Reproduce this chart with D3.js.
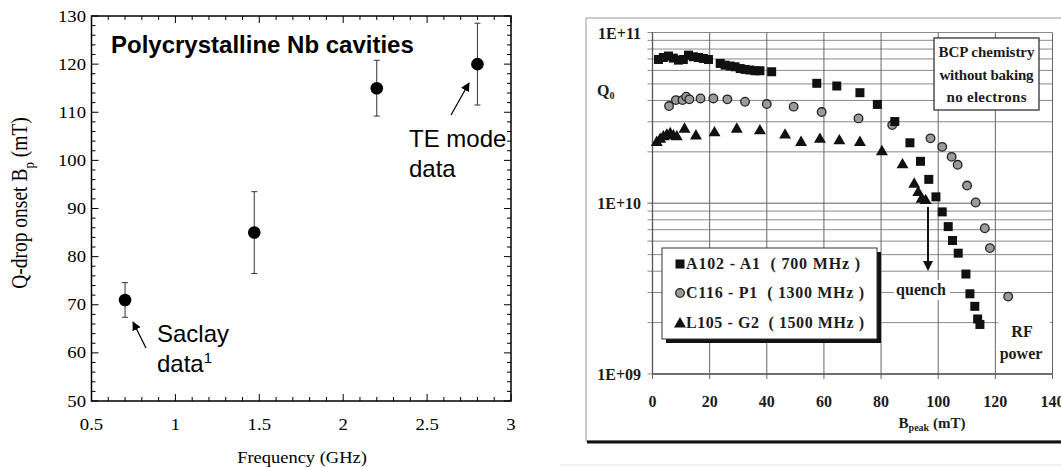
<!DOCTYPE html>
<html>
<head>
<meta charset="utf-8">
<script src="https://cdn.jsdelivr.net/npm/d3@7"></script>
<style>
  body { margin: 0; background: #fff; }
  svg { display: block; }
  .serif { font-family: "Liberation Serif", "Times New Roman", serif; }
  .sans { font-family: "Liberation Sans", Arial, sans-serif; }
</style>
</head>
<body>
<div id="chart"></div>
<script>
const width = 1061;
const height = 467;

// left panel: Q-drop onset vs frequency
const freqs = [0.7, 1.47, 2.2, 2.8];
const onset = [71, 85, 115, 120];
const onsetErr = [3.6, 8.5, 5.8, 8.5];
const xTicksL = [0.5, 1, 1.5, 2, 2.5, 3];
const yTicksL = [50, 60, 70, 80, 90, 100, 110, 120, 130];

// right panel: Q0 vs Bpeak
const aB = [2.1, 3.8, 5.6, 7.3, 9.1, 10.8, 12.6, 14.3, 16.1, 17.8, 19.6, 23.7, 25.4, 27.2, 28.9, 30.7, 32.4, 34.1, 35.9, 37.6, 41.7, 57.5, 64.5, 72.6, 78.7, 84.8, 90.1, 93.8, 96.7, 99.2, 101.4, 103.5, 105.0, 107.0, 109.7, 111.1, 112.8, 113.8, 114.6];
const aQ = [6.95e10, 7.14e10, 7.28e10, 7.08e10, 6.89e10, 6.95e10, 7.37e10, 7.21e10, 7.14e10, 7.05e10, 6.95e10, 6.59e10, 6.44e10, 6.36e10, 6.30e10, 6.15e10, 6.08e10, 6.03e10, 5.97e10, 5.97e10, 5.89e10, 5.04e10, 4.86e10, 4.44e10, 3.79e10, 3.01e10, 2.26e10, 1.76e10, 1.38e10, 1.09e10, 8.9e9, 7.3e9, 6.05e9, 5.1e9, 3.85e9, 2.95e9, 2.49e9, 2.1e9, 1.95e9];
const cB = [5.8, 8.2, 10.5, 11.8, 12.9, 16.8, 21.3, 26.2, 32.4, 40.0, 49.4, 59.2, 72.1, 83.9, 97.3, 101.4, 104.7, 106.8, 110.1, 113.1, 116.3, 118.1, 124.5];
const cQ = [3.71e10, 4.02e10, 4.02e10, 4.21e10, 4.06e10, 4.11e10, 4.11e10, 4.06e10, 3.93e10, 3.81e10, 3.68e10, 3.42e10, 3.14e10, 2.87e10, 2.40e10, 2.14e10, 1.87e10, 1.68e10, 1.27e10, 1.01e10, 7.14e9, 5.46e9, 2.84e9];
const lB = [1.5, 2.7, 3.8, 5.0, 6.2, 7.3, 8.5, 11.2, 15.2, 21.7, 29.5, 37.6, 46.4, 52.0, 58.6, 65.4, 72.6, 80.3, 87.5, 91.6, 93.0, 94.2, 95.6];
const lQ = [2.30e10, 2.40e10, 2.48e10, 2.54e10, 2.59e10, 2.51e10, 2.48e10, 2.75e10, 2.51e10, 2.62e10, 2.75e10, 2.69e10, 2.54e10, 2.30e10, 2.40e10, 2.35e10, 2.30e10, 2.03e10, 1.70e10, 1.31e10, 1.17e10, 1.07e10, 1.05e10];
const xTicksR = [0, 20, 40, 60, 80, 100, 120, 140];
const yTicksR = [1e9, 1e10, 1e11];
const yLabelsR = ['1E+09', '1E+10', '1E+11'];
const legendLabels = ['A102 - A1  ( 700 MHz )', 'C116 - P1  ( 1300 MHz )', 'L105 - G2  ( 1500 MHz )'];
const noteLines = ['BCP chemistry', 'without baking', 'no electrons'];

const svg = d3.select('#chart').append('svg')
  .attr('width', width)
  .attr('height', height);

//---------------- left panel ----------------
const xL = d3.scaleLinear().domain([0.5, 3]).range([91.5, 511]);
const yL = d3.scaleLinear().domain([50, 130]).range([401, 16]);
const left = svg.append('g');
const stretch = 1.17; // the scanned plot is a bit wider than tall

// minor + major ticks, inward on all four sides
const xMinor = d3.range(0.5, 3.001, 0.1);
const yMinor = d3.range(50, 130.001, 2);
xMinor.forEach(v => {
  const major = Math.abs(v * 2 - Math.round(v * 2)) < 1e-6;
  const len = major ? 7 : 4;
  left.append('line').attr('x1', xL(v)).attr('x2', xL(v)).attr('y1', 401).attr('y2', 401 - len).attr('stroke', '#000');
  left.append('line').attr('x1', xL(v)).attr('x2', xL(v)).attr('y1', 16).attr('y2', 16 + len).attr('stroke', '#000');
});
yMinor.forEach(v => {
  const major = v % 10 === 0;
  const len = major ? 7 : 4;
  left.append('line').attr('x1', 91.5).attr('x2', 91.5 + len).attr('y1', yL(v)).attr('y2', yL(v)).attr('stroke', '#000');
  left.append('line').attr('x1', 511).attr('x2', 511 - len).attr('y1', yL(v)).attr('y2', yL(v)).attr('stroke', '#000');
});
left.append('rect')
  .attr('x', 91.5).attr('y', 16)
  .attr('width', 511 - 91.5).attr('height', 401 - 16)
  .attr('fill', 'none').attr('stroke', '#000').attr('stroke-width', 1.5);

left.selectAll('.xtl').data(xTicksL).enter().append('text')
  .attr('class', 'serif')
  .attr('transform', d => 'translate(' + xL(d) + ',430) scale(' + stretch + ',1)')
  .attr('text-anchor', 'middle')
  .attr('font-size', 16)
  .text(d => d);
left.selectAll('.ytl').data(yTicksL).enter().append('text')
  .attr('class', 'serif')
  .attr('transform', d => 'translate(86,' + (yL(d) + 5.5) + ') scale(' + stretch + ',1)')
  .attr('text-anchor', 'end')
  .attr('font-size', 16)
  .text(d => d);

left.append('text')
  .attr('class', 'serif')
  .attr('transform', 'translate(302,463) scale(1.12,1)')
  .attr('text-anchor', 'middle')
  .attr('font-size', 16.5)
  .text('Frequency (GHz)');

const yLab = left.append('text')
  .attr('class', 'serif')
  .attr('transform', 'translate(27,203) scale(' + stretch + ',1) rotate(-90)')
  .attr('text-anchor', 'middle')
  .attr('font-size', 19.5);
yLab.append('tspan').text('Q-drop onset B');
yLab.append('tspan').attr('dy', 6).attr('font-size', 13).text('p');
yLab.append('tspan').attr('dy', -6).text(' (mT)');

// error bars
const pts = freqs.map((f, i) => ({f: f, v: onset[i], e: onsetErr[i]}));
const eb = left.selectAll('.eb').data(pts).enter().append('g');
eb.append('line')
  .attr('x1', d => xL(d.f)).attr('x2', d => xL(d.f))
  .attr('y1', d => yL(d.v + d.e)).attr('y2', d => yL(d.v - d.e))
  .attr('stroke', '#333');
eb.append('line')
  .attr('x1', d => xL(d.f) - 3).attr('x2', d => xL(d.f) + 3)
  .attr('y1', d => yL(d.v + d.e)).attr('y2', d => yL(d.v + d.e))
  .attr('stroke', '#333');
eb.append('line')
  .attr('x1', d => xL(d.f) - 3).attr('x2', d => xL(d.f) + 3)
  .attr('y1', d => yL(d.v - d.e)).attr('y2', d => yL(d.v - d.e))
  .attr('stroke', '#333');
eb.append('circle')
  .attr('cx', d => xL(d.f)).attr('cy', d => yL(d.v))
  .attr('r', 6.3).attr('fill', '#000');

left.append('text')
  .attr('class', 'sans')
  .attr('x', 111).attr('y', 53)
  .attr('font-size', 24).attr('font-weight', 'bold')
  .text('Polycrystalline Nb cavities');

const annoSize = 24;
left.append('text').attr('class', 'sans').attr('x', 409).attr('y', 147).attr('font-size', annoSize).text('TE mode');
left.append('text').attr('class', 'sans').attr('x', 409).attr('y', 177).attr('font-size', annoSize).text('data');
left.append('text').attr('class', 'sans').attr('x', 157).attr('y', 342).attr('font-size', annoSize).text('Saclay');
const sd = left.append('text').attr('class', 'sans').attr('x', 157).attr('y', 372).attr('font-size', annoSize);
sd.append('tspan').text('data');
sd.append('tspan').attr('dy', -9).attr('font-size', 15).text('1');

svg.append('defs').append('marker')
  .attr('id', 'ah').attr('viewBox', '0 0 10 10')
  .attr('refX', 9).attr('refY', 5)
  .attr('markerWidth', 9).attr('markerHeight', 9)
  .attr('markerUnits', 'userSpaceOnUse')
  .attr('orient', 'auto')
  .append('path').attr('d', 'M0,0 L10,5 L0,10 z').attr('fill', '#000');

left.append('line').attr('x1', 146).attr('y1', 348).attr('x2', 133).attr('y2', 322)
  .attr('stroke', '#000').attr('stroke-width', 1.3).attr('marker-end', 'url(#ah)');
left.append('line').attr('x1', 451).attr('y1', 115).attr('x2', 469).attr('y2', 83)
  .attr('stroke', '#000').attr('stroke-width', 1.3).attr('marker-end', 'url(#ah)');

//---------------- right panel ----------------
const right = svg.append('g');
const xR = d3.scaleLinear().domain([0, 140]).range([652.5, 1052.5]);
const yR = d3.scaleLog().domain([1e9, 1e11]).range([374, 32.5]);
const ink = '#1c1c1c';

// outer frame of the pasted figure
right.append('rect')
  .attr('x', 586).attr('y', 18).attr('width', 500).attr('height', 423)
  .attr('fill', '#fff').attr('stroke', '#999').attr('stroke-width', 1);
right.append('line').attr('x1', 587).attr('x2', 1061).attr('y1', 442).attr('y2', 442)
  .attr('stroke', '#111').attr('stroke-width', 3);
right.append('line').attr('x1', 560).attr('x2', 1061).attr('y1', 465).attr('y2', 465)
  .attr('stroke', '#e4e4e4').attr('stroke-width', 1);

// log grid
const gridQ = [];
[1e9, 1e10].forEach(dec => { for (let k = 1; k <= 10; k++) gridQ.push(dec * k); });
right.selectAll('.hg').data(gridQ).enter().append('line')
  .attr('x1', xR(0) - 5).attr('x2', xR(140))
  .attr('y1', d => yR(d)).attr('y2', d => yR(d))
  .attr('stroke', '#8a8a8a').attr('stroke-width', 1);
right.selectAll('.vg').data(xTicksR).enter().append('line')
  .attr('x1', d => xR(d)).attr('x2', d => xR(d))
  .attr('y1', yR(1e11)).attr('y2', yR(1e9) + 5)
  .attr('stroke', '#666').attr('stroke-width', 1);
right.append('line').attr('x1', xR(0)).attr('x2', xR(0)).attr('y1', yR(1e11)).attr('y2', yR(1e9))
  .attr('stroke', '#555').attr('stroke-width', 1.3);
right.append('line').attr('x1', xR(0)).attr('x2', xR(140)).attr('y1', yR(1e9)).attr('y2', yR(1e9))
  .attr('stroke', '#555').attr('stroke-width', 1.3);

right.selectAll('.ytr').data(yTicksR).enter().append('text')
  .attr('class', 'serif')
  .attr('x', 641).attr('y', d => yR(d) + 6)
  .attr('text-anchor', 'end')
  .attr('font-size', 16).attr('font-weight', 'bold').attr('fill', ink)
  .text((d, i) => yLabelsR[i]);
right.selectAll('.xtr').data(xTicksR).enter().append('text')
  .attr('class', 'serif')
  .attr('x', d => xR(d)).attr('y', 407)
  .attr('text-anchor', 'middle')
  .attr('font-size', 16).attr('font-weight', 'bold').attr('fill', ink)
  .text(d => d);

const q0 = right.append('text').attr('class', 'serif').attr('x', 597).attr('y', 96)
  .attr('font-size', 16).attr('font-weight', 'bold').attr('fill', ink);
q0.append('tspan').text('Q');
q0.append('tspan').attr('dy', 3).attr('font-size', 10).text('0');

const bl = right.append('text').attr('class', 'serif').attr('x', 932).attr('y', 428)
  .attr('text-anchor', 'middle')
  .attr('font-size', 15).attr('font-weight', 'bold').attr('fill', ink);
bl.append('tspan').text('B');
bl.append('tspan').attr('dy', 3).attr('font-size', 10).text('peak');
bl.append('tspan').attr('dy', -3).text(' (mT)');

// data marks
const sq = aB.map((b, i) => ({b: b, q: aQ[i]}));
const ci = cB.map((b, i) => ({b: b, q: cQ[i]}));
const tr = lB.map((b, i) => ({b: b, q: lQ[i]}));
const triPath = d3.symbol().type(d3.symbolTriangle).size(62);
right.selectAll('.tri').data(tr).enter().append('path')
  .attr('d', triPath)
  .attr('transform', d => 'translate(' + xR(d.b) + ',' + (yR(d.q) + 1) + ')')
  .attr('fill', '#111');
right.selectAll('.cir').data(ci).enter().append('circle')
  .attr('cx', d => xR(d.b)).attr('cy', d => yR(d.q)).attr('r', 4.3)
  .attr('fill', '#9a9a9a').attr('stroke', '#222').attr('stroke-width', 1.3);
right.selectAll('.sq').data(sq).enter().append('rect')
  .attr('x', d => xR(d.b) - 4.5).attr('y', d => yR(d.q) - 4.5)
  .attr('width', 9).attr('height', 9)
  .attr('fill', '#111');

// note box
right.append('rect').attr('x', 934).attr('y', 38).attr('width', 105).attr('height', 72)
  .attr('fill', '#fff').attr('stroke', '#333').attr('stroke-width', 1.3);
right.selectAll('.note').data(noteLines).enter().append('text')
  .attr('class', 'serif')
  .attr('x', 986.5).attr('y', (d, i) => 57 + i * 22.5)
  .attr('text-anchor', 'middle')
  .attr('font-size', 15).attr('font-weight', 'bold').attr('fill', ink)
  .attr('textLength', (d, i) => [96, 94, 80][i])
  .text(d => d);

// legend box with shadow
right.append('rect').attr('x', 666).attr('y', 252).attr('width', 215).attr('height', 91).attr('fill', '#111');
right.append('rect').attr('x', 662).attr('y', 248).attr('width', 215).attr('height', 91)
  .attr('fill', '#fff').attr('stroke', '#333').attr('stroke-width', 1);
const legY = [264, 293, 323];
right.append('rect').attr('x', 680 - 4.5).attr('y', legY[0] - 4.5).attr('width', 9).attr('height', 9).attr('fill', '#111');
right.append('circle').attr('cx', 680).attr('cy', legY[1]).attr('r', 4.3)
  .attr('fill', '#9a9a9a').attr('stroke', '#222').attr('stroke-width', 1.3);
right.append('path').attr('d', triPath).attr('transform', 'translate(680,' + (legY[2] + 1) + ')').attr('fill', '#111');
right.selectAll('.leg').data(legendLabels).enter().append('text')
  .attr('class', 'serif')
  .attr('x', 686).attr('y', (d, i) => legY[i] + 5)
  .attr('font-size', 16).attr('font-weight', 'bold').attr('fill', ink)
  .style('white-space', 'pre')
  .attr('textLength', (d, i) => [174, 178, 178][i])
  .text(d => d);

// annotations
right.append('rect').attr('x', 894).attr('y', 280).attr('width', 56).attr('height', 20).attr('fill', '#fff');
right.append('text').attr('class', 'serif').attr('x', 921).attr('y', 295).attr('text-anchor', 'middle')
  .attr('font-size', 16).attr('font-weight', 'bold').attr('fill', ink).text('quench');
right.append('line').attr('x1', 928).attr('x2', 928).attr('y1', 207).attr('y2', 262)
  .attr('stroke', '#111').attr('stroke-width', 2);
right.append('path').attr('d', 'M923,261 L933,261 L928,271 Z').attr('fill', '#111');
right.append('rect').attr('x', 998).attr('y', 320).attr('width', 52).attr('height', 42).attr('fill', '#fff');
right.append('text').attr('class', 'serif').attr('x', 1022).attr('y', 337).attr('text-anchor', 'middle')
  .attr('font-size', 16).attr('font-weight', 'bold').attr('fill', ink).text('RF');
right.append('text').attr('class', 'serif').attr('x', 1021).attr('y', 359).attr('text-anchor', 'middle')
  .attr('font-size', 16).attr('font-weight', 'bold').attr('fill', ink).text('power');
</script>
</body>
</html>
